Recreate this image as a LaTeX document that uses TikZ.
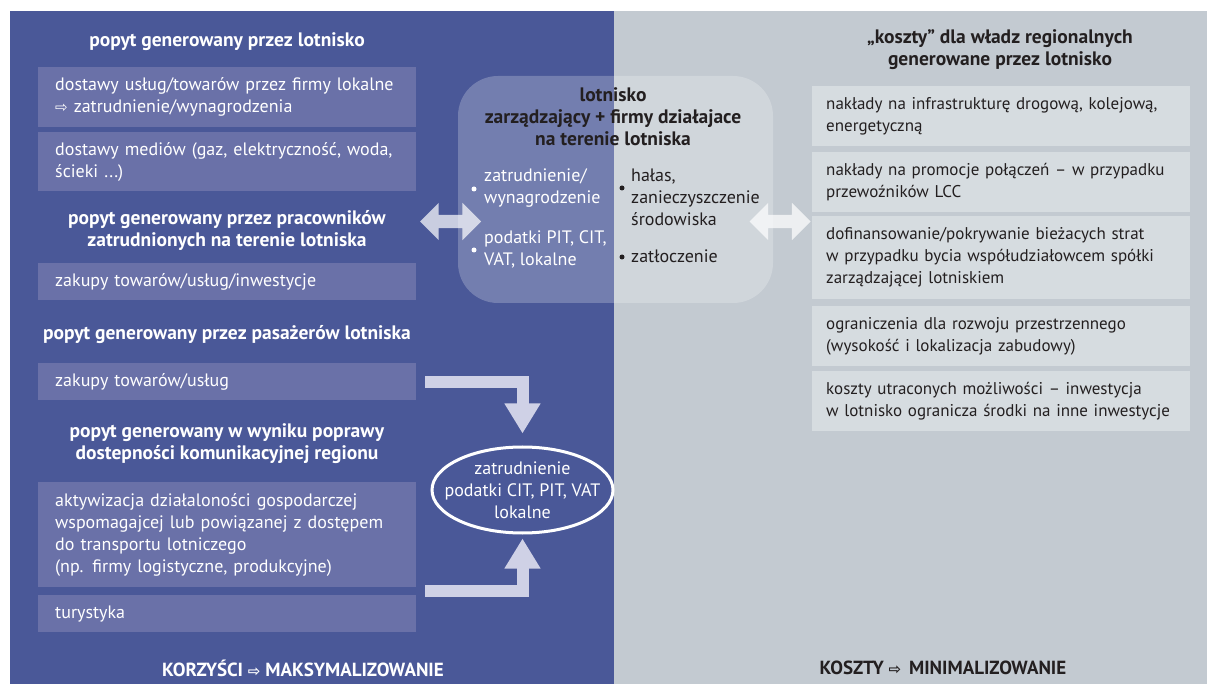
\documentclass[tikz,border=0pt]{standalone}
\usepackage{fontspec}
\setmainfont{PT Sans}
\newfontfamily\arrowfont{DejaVu Sans}
\usetikzlibrary{shapes.geometric,shapes.arrows,arrows.meta,calc}

\definecolor{benefitblue}{RGB}{74,88,152}
\definecolor{benefitbox}{RGB}{106,113,168}
\definecolor{costgray}{RGB}{195,202,209}
\definecolor{costbox}{RGB}{214,220,224}
\definecolor{flowlilac}{RGB}{207,209,230}
\definecolor{darktext}{RGB}{35,31,32}

\newcommand{\px}{1pt}
\newcommand{\itemfont}{\fontsize{18}{22}\selectfont}
\newcommand{\costfont}{\fontsize{17}{22}\selectfont}
\newcommand{\headfont}{\fontsize{19.5}{22}\selectfont\bfseries}
\newcommand{\thenarrow}{{\arrowfont\fontsize{15}{15}\selectfont ⇨}}

\tikzstyle{item}=[fill=benefitbox, text=white, anchor=north west, text width=344pt, inner xsep=17pt, inner ysep=0pt, align=left, font=\itemfont]
\tikzstyle{costitem}=[item, fill=costbox, text=darktext, text width=350pt, inner xsep=14pt, font=\costfont]
\tikzstyle{heading}=[text=white, align=center, font=\headfont, inner sep=0pt]
\tikzstyle{costheading}=[heading, text=darktext]
\tikzstyle{hub}=[fill=white, fill opacity=0.23, rounded corners=40pt, minimum width=315pt, minimum height=227pt, inner sep=0pt]
\tikzstyle{bullet}=[align=left, font=\itemfont, inner sep=0pt, anchor=west]
\tikzstyle{twoway}=[double arrow, fill=white, fill opacity=0.7, double arrow head extend=12pt, minimum height=61pt, inner sep=0pt, text height=13pt, text depth=0pt]
\tikzstyle{result}=[ellipse, draw=white, line width=3pt, minimum width=181pt, minimum height=86pt, inner sep=0pt]
\tikzstyle{resulttext}=[text=white, align=center, font=\itemfont, inner sep=0pt]
\tikzstyle{flow}=[draw=flowlilac, line width=12pt, line join=miter, -{Triangle[width=34pt,length=30pt]}]
\tikzstyle{footer}=[inner sep=0pt, font=\fontsize{19}{22}\selectfont\bfseries]

\begin{document}
\begin{tikzpicture}[x=\px, y=-\px]
    \useasboundingbox (0,0) rectangle (1208,684);
    \fill[white] (0,0) rectangle (1208,684);
    % the two halves: benefits and costs
    \fill[benefitblue] (10,11) rectangle (614,684);
    \fill[costgray] (614,11) rectangle (1207,684);

    % benefits column
    \node[heading] (h1) at (227,42) {popyt generowany przez lotnisko};
    \node[heading] (h2) at (227,230) {popyt generowany przez pracowników\\zatrudnionych na terenie lotniska};
    \node[heading] (h3) at (227,335) {popyt generowany przez pasażerów lotniska};
    \node[heading] (h4) at (227,444) {popyt generowany w wyniku poprawy\\dostepności komunikacyjnej regionu};
    \foreach \pos/\name/\h/\txt in {{(38,67)/supply/60/{dostawy usług/towarów przez firmy lokalne\\\thenarrow{} zatrudnienie/wynagrodzenia}},
        {(38,132)/media/59/{dostawy mediów (gaz, elektryczność, woda,\\ścieki ...)}},
        {(38,263)/staff/37/{zakupy towarów/usług/inwestycje}},
        {(38,363)/pax/37/{zakupy towarów/usług}},
        {(38,482)/access/105/{aktywizacja działaloności gospodarczej\\wspomagajcej lub powiązanej z dostępem\\do transportu lotniczego\\(np. firmy logistyczne, produkcyjne)}},
        {(38,595)/tourism/37/{turystyka}}}
        \node[item, minimum height=\h pt] (\name) at \pos {\txt};

    % costs column
    \node[costheading] (h5) at (1000,50) {„koszty” dla władz regionalnych\\generowane przez lotnisko};
    \foreach \pos/\name/\h/\txt in {{(812,86)/infra/60/{nakłady na infrastrukturę drogową, kolejową,\\energetyczną}},
        {(812,152)/promo/60/{nakłady na promocje połączeń – w przypadku\\przewoźników LCC}},
        {(812,216)/subsidy/83/{dofinansowanie/pokrywanie bieżacych strat\\w przypadku bycia współudziałowcem spółki\\zarządzającej lotniskiem}},
        {(812,306)/space/60/{ograniczenia dla rozwoju przestrzennego\\(wysokość i lokalizacja zabudowy)}},
        {(812,371)/lost/60/{koszty utraconych możliwości – inwestycja\\w lotnisko ogranicza środki na inne inwestycje}}}
        \node[costitem, minimum height=\h pt] (\name) at \pos {\txt};

    % airport in the middle
    \node[hub] (hub) at (615.5,189.5) {};
    \node[costheading] (hubtitle) at (613,117) {lotnisko\\zarządzający + firmy działajace\\na terenie lotniska};
    \node[bullet, text=white] (jobs) at (484,188) {zatrudnienie/\\wynagrodzenie};
    \node[bullet, text=white] (taxes) at (484,249) {podatki PIT, CIT,\\VAT, lokalne};
    \node[bullet, text=darktext] (noise) at (631,197) {hałas,\\zanieczyszczenie\\środowiska};
    \node[bullet, text=darktext] (jam) at (631,256) {zatłoczenie};
    \foreach \name/\dx/\dy/\col in {jobs/10/1/white, taxes/10/1/white, noise/9/-9/darktext, jam/9/1/darktext}
        \fill[\col] ($(\name.west)+(-\dx,\dy)$) circle (2.5pt);

    \node[twoway] (lflow) at (450.5,221.5) {};
    \node[twoway] (rflow) at (780,221.5) {};

    % what the region gets back
    \node[result] (gain) at (522.5,490) {};
    \node[resulttext] (gaintext) at (gain.center) {zatrudnienie\\podatki CIT, PIT, VAT\\lokalne};
    \coordinate (accgap) at ($(access.south east)!0.5!(tourism.north east)$);
    \draw[flow, shorten <=9pt, shorten >=12pt] (pax.east) -| (gain.north);
    \draw[flow, shorten <=9pt, shorten >=4pt] (accgap) -| (gain.south);

    \node[footer, text=white] (plus) at (303,668) {KORZYŚCI \thenarrow{} MAKSYMALIZOWANIE};
    \node[footer, text=darktext] (minus) at (943,668) {KOSZTY \thenarrow{}\, MINIMALIZOWANIE};
\end{tikzpicture}
\end{document}
